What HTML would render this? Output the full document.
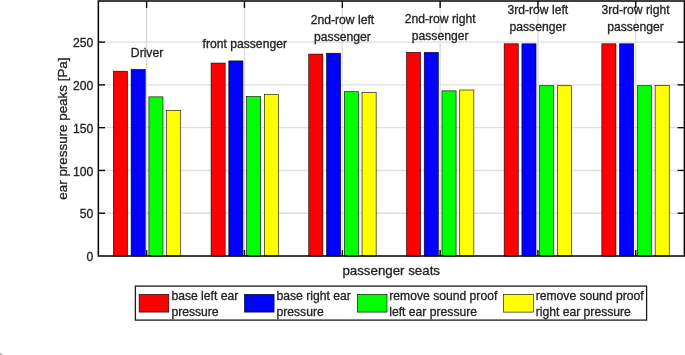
<!DOCTYPE html>
<html><head><meta charset="utf-8"><title>chart</title><style>html,body{margin:0;padding:0;background:#fff}svg{display:block}text{stroke:#222;stroke-width:.3px}</style></head><body>
<svg width="685" height="355" viewBox="0 0 685 355" font-family="'Liberation Sans', Arial, sans-serif" fill="#222">
<rect width="685" height="355" fill="#fff"/>
<line x1="98.2" x2="684.4" y1="213.22" y2="213.22" stroke="#dedede" stroke-width="1.4"/>
<line x1="98.2" x2="684.4" y1="170.44" y2="170.44" stroke="#dedede" stroke-width="1.4"/>
<line x1="98.2" x2="684.4" y1="127.66" y2="127.66" stroke="#dedede" stroke-width="1.4"/>
<line x1="98.2" x2="684.4" y1="84.88" y2="84.88" stroke="#dedede" stroke-width="1.4"/>
<line x1="98.2" x2="684.4" y1="42.10" y2="42.10" stroke="#dedede" stroke-width="1.4"/>
<line x1="146.60" x2="146.60" y1="0.9" y2="256.0" stroke="#dedede" stroke-width="1.4"/>
<line x1="244.45" x2="244.45" y1="0.9" y2="256.0" stroke="#dedede" stroke-width="1.4"/>
<line x1="342.35" x2="342.35" y1="0.9" y2="256.0" stroke="#dedede" stroke-width="1.4"/>
<line x1="440.15" x2="440.15" y1="0.9" y2="256.0" stroke="#dedede" stroke-width="1.4"/>
<line x1="537.95" x2="537.95" y1="0.9" y2="256.0" stroke="#dedede" stroke-width="1.4"/>
<line x1="635.75" x2="635.75" y1="0.9" y2="256.0" stroke="#dedede" stroke-width="1.4"/>
<rect x="113.35" y="71.19" width="14.11" height="184.81" fill="#ff0000" stroke="#000" stroke-width="0.6"/>
<rect x="131.11" y="69.48" width="14.11" height="186.52" fill="#0000ff" stroke="#000" stroke-width="0.6"/>
<rect x="148.88" y="96.86" width="14.11" height="159.14" fill="#00ff00" stroke="#000" stroke-width="0.6"/>
<rect x="166.64" y="110.55" width="14.11" height="145.45" fill="#ffff00" stroke="#000" stroke-width="0.6"/>
<rect x="211.05" y="63.06" width="14.11" height="192.94" fill="#ff0000" stroke="#000" stroke-width="0.6"/>
<rect x="228.81" y="60.92" width="14.11" height="195.08" fill="#0000ff" stroke="#000" stroke-width="0.6"/>
<rect x="246.58" y="96.60" width="14.11" height="159.40" fill="#00ff00" stroke="#000" stroke-width="0.6"/>
<rect x="264.34" y="94.29" width="14.11" height="161.71" fill="#ffff00" stroke="#000" stroke-width="0.6"/>
<rect x="308.75" y="54.08" width="14.11" height="201.92" fill="#ff0000" stroke="#000" stroke-width="0.6"/>
<rect x="326.51" y="53.22" width="14.11" height="202.78" fill="#0000ff" stroke="#000" stroke-width="0.6"/>
<rect x="344.28" y="91.72" width="14.11" height="164.28" fill="#00ff00" stroke="#000" stroke-width="0.6"/>
<rect x="362.04" y="92.58" width="14.11" height="163.42" fill="#ffff00" stroke="#000" stroke-width="0.6"/>
<rect x="406.45" y="52.37" width="14.11" height="203.63" fill="#ff0000" stroke="#000" stroke-width="0.6"/>
<rect x="424.21" y="52.37" width="14.11" height="203.63" fill="#0000ff" stroke="#000" stroke-width="0.6"/>
<rect x="441.98" y="90.87" width="14.11" height="165.13" fill="#00ff00" stroke="#000" stroke-width="0.6"/>
<rect x="459.74" y="90.01" width="14.11" height="165.99" fill="#ffff00" stroke="#000" stroke-width="0.6"/>
<rect x="504.15" y="43.81" width="14.11" height="212.19" fill="#ff0000" stroke="#000" stroke-width="0.6"/>
<rect x="521.91" y="43.81" width="14.11" height="212.19" fill="#0000ff" stroke="#000" stroke-width="0.6"/>
<rect x="539.68" y="85.74" width="14.11" height="170.26" fill="#00ff00" stroke="#000" stroke-width="0.6"/>
<rect x="557.44" y="85.74" width="14.11" height="170.26" fill="#ffff00" stroke="#000" stroke-width="0.6"/>
<rect x="601.85" y="43.81" width="14.11" height="212.19" fill="#ff0000" stroke="#000" stroke-width="0.6"/>
<rect x="619.61" y="43.81" width="14.11" height="212.19" fill="#0000ff" stroke="#000" stroke-width="0.6"/>
<rect x="637.38" y="85.74" width="14.11" height="170.26" fill="#00ff00" stroke="#000" stroke-width="0.6"/>
<rect x="655.14" y="85.31" width="14.11" height="170.69" fill="#ffff00" stroke="#000" stroke-width="0.6"/>
<rect x="98.35000000000001" y="1.0" width="586.05" height="255.0" fill="none" stroke="#000" stroke-width="1.5"/>
<line x1="98.2" x2="105.0" y1="213.22" y2="213.22" stroke="#000" stroke-width="1.35"/>
<line x1="684.4" x2="677.6" y1="213.22" y2="213.22" stroke="#000" stroke-width="1.35"/>
<line x1="98.2" x2="105.0" y1="170.44" y2="170.44" stroke="#000" stroke-width="1.35"/>
<line x1="684.4" x2="677.6" y1="170.44" y2="170.44" stroke="#000" stroke-width="1.35"/>
<line x1="98.2" x2="105.0" y1="127.66" y2="127.66" stroke="#000" stroke-width="1.35"/>
<line x1="684.4" x2="677.6" y1="127.66" y2="127.66" stroke="#000" stroke-width="1.35"/>
<line x1="98.2" x2="105.0" y1="84.88" y2="84.88" stroke="#000" stroke-width="1.35"/>
<line x1="684.4" x2="677.6" y1="84.88" y2="84.88" stroke="#000" stroke-width="1.35"/>
<line x1="98.2" x2="105.0" y1="42.10" y2="42.10" stroke="#000" stroke-width="1.35"/>
<line x1="684.4" x2="677.6" y1="42.10" y2="42.10" stroke="#000" stroke-width="1.35"/>
<line x1="146.60" x2="146.60" y1="0.9" y2="7.9" stroke="#000" stroke-width="1.35"/>
<line x1="146.60" x2="146.60" y1="256.0" y2="250.1" stroke="#000" stroke-width="1.35"/>
<line x1="244.45" x2="244.45" y1="0.9" y2="7.9" stroke="#000" stroke-width="1.35"/>
<line x1="244.45" x2="244.45" y1="256.0" y2="250.1" stroke="#000" stroke-width="1.35"/>
<line x1="342.35" x2="342.35" y1="0.9" y2="7.9" stroke="#000" stroke-width="1.35"/>
<line x1="342.35" x2="342.35" y1="256.0" y2="250.1" stroke="#000" stroke-width="1.35"/>
<line x1="440.15" x2="440.15" y1="0.9" y2="7.9" stroke="#000" stroke-width="1.35"/>
<line x1="440.15" x2="440.15" y1="256.0" y2="250.1" stroke="#000" stroke-width="1.35"/>
<line x1="537.95" x2="537.95" y1="0.9" y2="7.9" stroke="#000" stroke-width="1.35"/>
<line x1="537.95" x2="537.95" y1="256.0" y2="250.1" stroke="#000" stroke-width="1.35"/>
<line x1="635.75" x2="635.75" y1="0.9" y2="7.9" stroke="#000" stroke-width="1.35"/>
<line x1="635.75" x2="635.75" y1="256.0" y2="250.1" stroke="#000" stroke-width="1.35"/>
<text x="93.3" y="261.10" font-size="12.15" text-anchor="end">0</text>
<text x="93.3" y="218.32" font-size="12.15" text-anchor="end">50</text>
<text x="93.3" y="175.54" font-size="12.15" text-anchor="end">100</text>
<text x="93.3" y="132.76" font-size="12.15" text-anchor="end">150</text>
<text x="93.3" y="89.98" font-size="12.15" text-anchor="end">200</text>
<text x="93.3" y="47.20" font-size="12.15" text-anchor="end">250</text>
<text x="147.05" y="57.30" font-size="12.15" text-anchor="middle">Driver</text>
<text x="244.75" y="47.50" font-size="12.15" text-anchor="middle">front passenger</text>
<text x="342.45" y="24.00" font-size="12.15" text-anchor="middle">2nd-row left</text>
<text x="342.45" y="41.10" font-size="12.15" text-anchor="middle">passenger</text>
<text x="440.15" y="22.90" font-size="12.15" text-anchor="middle">2nd-row right</text>
<text x="440.15" y="39.60" font-size="12.15" text-anchor="middle">passenger</text>
<text x="537.85" y="13.70" font-size="12.15" text-anchor="middle">3rd-row left</text>
<text x="537.85" y="30.70" font-size="12.15" text-anchor="middle">passenger</text>
<text x="635.55" y="13.70" font-size="12.15" text-anchor="middle">3rd-row right</text>
<text x="635.55" y="30.70" font-size="12.15" text-anchor="middle">passenger</text>
<text x="391.2" y="274.5" font-size="13.3" text-anchor="middle">passenger seats</text>
<text transform="translate(66.9,128.6) rotate(-90)" font-size="13.4" text-anchor="middle">ear pressure peaks [Pa]</text>
<rect x="135.4" y="286.1" width="511.2" height="34.0" fill="#fff" stroke="#1a1a1a" stroke-width="1.3"/>
<rect x="139.1" y="294.3" width="29.7" height="17.8" fill="#ff0000" stroke="#000" stroke-width="0.6"/>
<text x="171.4" y="299.8" font-size="12.15">base left ear</text>
<text x="171.4" y="316.1" font-size="12.15">pressure</text>
<rect x="244.4" y="294.3" width="29.7" height="17.8" fill="#0000ff" stroke="#000" stroke-width="0.6"/>
<text x="276.5" y="299.8" font-size="12.15">base right ear</text>
<text x="276.5" y="316.1" font-size="12.15">pressure</text>
<rect x="357.3" y="294.3" width="29.7" height="17.8" fill="#00ff00" stroke="#000" stroke-width="0.6"/>
<text x="389.3" y="299.8" font-size="12.15">remove sound proof</text>
<text x="389.3" y="316.1" font-size="12.15">left ear pressure</text>
<rect x="503.6" y="294.3" width="29.7" height="17.8" fill="#ffff00" stroke="#000" stroke-width="0.6"/>
<text x="535.7" y="299.8" font-size="12.15">remove sound proof</text>
<text x="535.7" y="316.1" font-size="12.15">right ear pressure</text>
<defs><radialGradient id="b" cx="0" cy="1" r="1"><stop offset="0" stop-color="#777"/><stop offset="1" stop-color="#fff" stop-opacity="0"/></radialGradient></defs><rect x="0" y="351" width="4" height="4" fill="url(#b)"/>
</svg>
</body></html>
